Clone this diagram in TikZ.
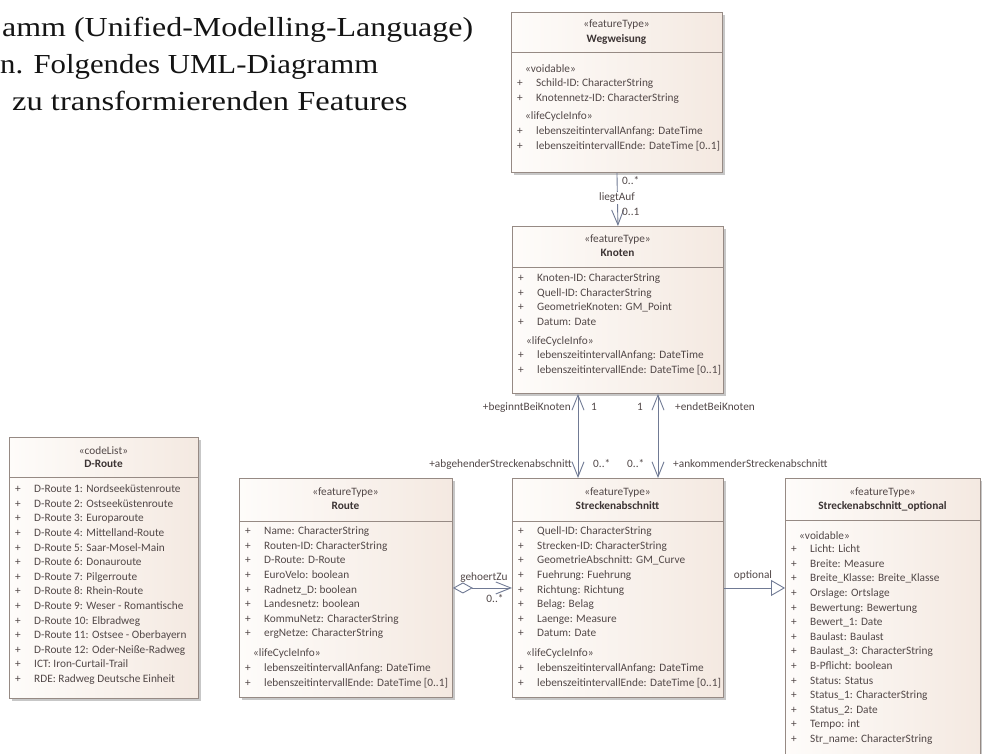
\documentclass[tikz,border=0pt]{standalone}
\usepackage{fontspec}
\setmainfont{Liberation Serif}
\newfontfamily\umlfont{Carlito}
\newfontfamily\parafont[FakeStretch=1.12]{Liberation Serif}
\usetikzlibrary{arrows.meta,shadows}
\definecolor{boxborder}{RGB}{150,138,132}
\definecolor{boxfillA}{RGB}{254,252,250}
\definecolor{boxfillB}{RGB}{244,233,225}
\definecolor{umltxt}{RGB}{82,72,72}
\definecolor{umltitlec}{RGB}{60,52,52}
\definecolor{connc}{RGB}{112,122,148}
\definecolor{paratxt}{RGB}{20,20,20}
\newcommand\umlsize{\fontsize{11.3}{13}\selectfont}
\tikzset{
  umlbox/.style={draw=boxborder, line width=0.9pt, left color=boxfillA, right color=boxfillB,
    anchor=north west, inner sep=0pt,
    drop shadow={shadow xshift=2.5pt, shadow yshift=-2.5pt, fill=black, opacity=0.22}},
  sepline/.style={draw=boxborder, line width=0.8pt},
  umlt/.style={font=\umlfont\umlsize, text=umltxt, inner sep=0pt, anchor=west, text height=7.5pt, text depth=2.2pt},
  umlhead/.style={font=\umlfont\umlsize, text=umltxt, inner sep=0pt, anchor=center, text height=7.5pt, text depth=2.2pt},
  umltitle/.style={font=\umlfont\umlsize\bfseries, text=umltitlec, inner sep=0pt, anchor=center, text height=7.5pt, text depth=2.2pt},
  conn/.style={draw=connc, line width=0.9pt},
  clabel/.style={font=\umlfont\umlsize, text=umltxt, inner sep=0pt, text height=7.5pt, text depth=2.2pt},
  para/.style={font=\parafont\fontsize{27.5}{33}\selectfont, text=paratxt, inner sep=0pt, anchor=base west},
  vtip/.tip={Straight Barb[length=15pt,width=12pt,line width=0.9pt]},
}
\newcommand\umlrows[4]{%
  \foreach \t [count=\i] in {#4} {
    \pgfmathsetmacro\yy{#3+14.6*(\i-1)}
    \node[umlt] (#1p\i) at (#2+6,\yy) {+};
    \node[umlt] (#1\i) at (#2+25,\yy) {\t};
  }}
\begin{document}
\begin{tikzpicture}[x=1pt,y=-1pt]
\useasboundingbox (0,0) rectangle (982,753);
\clip (0,0) rectangle (982,753);
\fill[white] (0,0) rectangle (982,753);

% paragraph text
\node[para] (t1) at (2,36) {\scalebox{1.037}[1]{amm (Unified-Modelling-Language)}};
\node[para] (t2) at (0,73) {n. Folgendes UML-Diagramm};
\node[para] (t3) at (12,110) {\scalebox{1.055}[1]{zu transformierenden Features}};

% Wegweisung
\node[umlbox, minimum width=211pt, minimum height=160pt] (weg) at (511,12) {};
\node[umlhead] (wegst) at (616.5,25) {«featureType»};
\node[umltitle] (wegti) at (616.5,40) {Wegweisung};
\draw[sepline] (511,52) -- (722,52);
\node[umlt] (wegv) at (525,70) {«voidable»};
\umlrows{wa}{511}{84}{{Schild-ID: CharacterString},{Knotennetz-ID: CharacterString}}
\node[umlt] (wegl) at (525,117) {«lifeCycleInfo»};
\umlrows{wb}{511}{132}{{lebenszeitintervallAnfang: DateTime},{lebenszeitintervallEnde: DateTime [0..1]}}

% Knoten
\node[umlbox, minimum width=211pt, minimum height=167pt] (kno) at (512,226) {};
\node[umlhead] (knost) at (617.5,240) {«featureType»};
\node[umltitle] (knoti) at (617.5,254) {Knoten};
\draw[sepline] (512,267) -- (723,267);
\umlrows{ka}{512}{279}{{Knoten-ID: CharacterString},{Quell-ID: CharacterString},{GeometrieKnoten: GM\_Point},{Datum: Date}}
\node[umlt] (knol) at (526,342) {«lifeCycleInfo»};
\umlrows{kb}{512}{356}{{lebenszeitintervallAnfang: DateTime},{lebenszeitintervallEnde: DateTime [0..1]}}

% D-Route
\node[umlbox, minimum width=189pt, minimum height=261pt] (drt) at (9,437) {};
\node[umlhead] (drtst) at (103.5,452) {«codeList»};
\node[umltitle] (drtti) at (103.5,465) {D-Route};
\draw[sepline] (9,477) -- (198,477);
\umlrows{da}{9}{490}{{D-Route 1: Nordseeküstenroute},{D-Route 2: Ostseeküstenroute},{D-Route 3: Europaroute},{D-Route 4: Mittelland-Route},{D-Route 5: Saar-Mosel-Main},{D-Route 6: Donauroute},{D-Route 7: Pilgerroute},{D-Route 8: Rhein-Route},{D-Route 9: Weser - Romantische},{D-Route 10: Elbradweg},{D-Route 11: Ostsee - Oberbayern},{D-Route 12: Oder-Neiße-Radweg},{ICT: Iron-Curtail-Trail},{RDE: Radweg Deutsche Einheit}}

% Route
\node[umlbox, minimum width=213pt, minimum height=219pt] (rte) at (239,478) {};
\node[umlhead] (rtest) at (345.5,493) {«featureType»};
\node[umltitle] (rteti) at (345.5,507) {Route};
\draw[sepline] (239,521) -- (452,521);
\umlrows{ra}{239}{532}{{Name: CharacterString},{Routen-ID: CharacterString},{D-Route: D-Route},{EuroVelo: boolean},{Radnetz\_D: boolean},{Landesnetz: boolean},{KommuNetz: CharacterString},{ergNetze: CharacterString}}
\node[umlt] (rtel) at (253,654) {«lifeCycleInfo»};
\umlrows{rb}{239}{669}{{lebenszeitintervallAnfang: DateTime},{lebenszeitintervallEnde: DateTime [0..1]}}

% Streckenabschnitt
\node[umlbox, minimum width=211pt, minimum height=219pt] (str) at (512,478) {};
\node[umlhead] (strst) at (617.5,493) {«featureType»};
\node[umltitle] (strti) at (617.5,507) {Streckenabschnitt};
\draw[sepline] (512,521) -- (723,521);
\umlrows{sa}{512}{532}{{Quell-ID: CharacterString},{Strecken-ID: CharacterString},{GeometrieAbschnitt: GM\_Curve},{Fuehrung: Fuehrung},{Richtung: Richtung},{Belag: Belag},{Laenge: Measure},{Datum: Date}}
\node[umlt] (strl) at (526,654) {«lifeCycleInfo»};
\umlrows{sb}{512}{669}{{lebenszeitintervallAnfang: DateTime},{lebenszeitintervallEnde: DateTime [0..1]}}

% Streckenabschnitt_optional
\node[umlbox, minimum width=195pt, minimum height=300pt] (opt) at (785,478) {};
\node[umlhead] (optst) at (882.5,493) {«featureType»};
\node[umltitle] (optti) at (882.5,507) {Streckenabschnitt\_optional};
\draw[sepline] (785,520) -- (980,520);
\node[umlt] (optv) at (799,537) {«voidable»};
\umlrows{oa}{785}{550}{{Licht: Licht},{Breite: Measure},{Breite\_Klasse: Breite\_Klasse},{Orslage: Ortslage},{Bewertung: Bewertung},{Bewert\_1: Date},{Baulast: Baulast},{Baulast\_3: CharacterString},{B-Pflicht: boolean},{Status: Status},{Status\_1: CharacterString},{Status\_2: Date},{Tempo: int},{Str\_name: CharacterString}}

% connectors
\draw[conn, -vtip] (weg.south) -- (kno.north);
\node[clabel, anchor=west] (lq1) at (622,182) {0..*};
\node[clabel, fill=white, inner sep=1pt] (lq2) at (617,198) {liegtAuf};
\node[clabel, anchor=west] (lq3) at (622,213) {0..1};

\draw[conn, vtip-vtip] ([xshift=66pt]kno.south west) -- ([xshift=66pt]str.north west);
\draw[conn, vtip-vtip] ([xshift=146pt]kno.south west) -- ([xshift=146pt]str.north west);
\node[clabel, anchor=east] (lb1) at (571,408) {+beginntBeiKnoten};
\node[clabel, anchor=west] (lb2) at (591,408) {1};
\node[clabel, anchor=east] (lb3) at (643,408) {1};
\node[clabel, anchor=west] (lb4) at (675,408) {+endetBeiKnoten};
\node[clabel, anchor=east] (lc1) at (572,465) {+abgehenderStreckenabschnitt};
\node[clabel, anchor=west] (lc2) at (593,465) {0..*};
\node[clabel, anchor=west] (lc3) at (627,465) {0..*};
\node[clabel, anchor=west] (lc4) at (673,465) {+ankommenderStreckenabschnitt};

\draw[conn, {Diamond[length=20pt,width=11pt,fill=white,line width=0.9pt]}-vtip] (rte.east) -- (str.west);
\node[clabel] (lg1) at (484,578) {gehoertZu};
\node[clabel] (lg2) at (495,600) {0..*};

\draw[conn, -{Triangle[length=14pt,width=16pt,fill=white,line width=0.9pt]}] (str.east) -- (str.east -| opt.west);
\node[clabel] (lo1) at (753,576) {optional};
\end{tikzpicture}
\end{document}
